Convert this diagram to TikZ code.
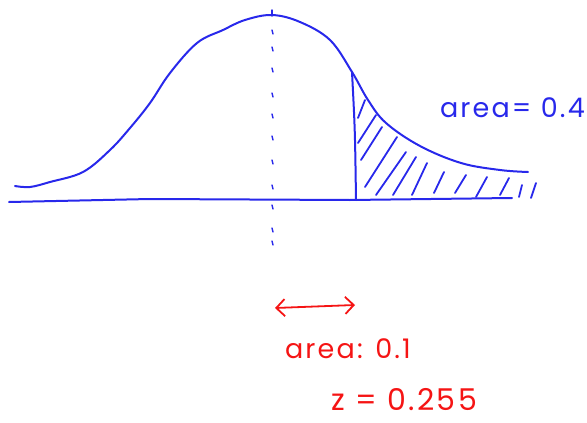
\documentclass[tikz,border=0pt]{standalone}
\usepackage{fontspec}
\newfontfamily\handfont[LetterSpace=8]{Poppins}
\usetikzlibrary{arrows.meta}
\definecolor{penblue}{RGB}{40,40,235}
\definecolor{penred}{RGB}{245,20,20}

\begin{document}
\begin{tikzpicture}[x=1pt, y=-1pt,
  pen/.style={penblue, line width=2pt, line cap=round, line join=round},
  hatch/.style={penblue, line width=1.8pt, line cap=round},
  tick/.style={penblue, line width=1.4pt, line cap=round},
  lbl/.style={inner sep=0pt, font=\handfont\fontsize{27}{30}\selectfont},
  farr/.style={{Straight Barb[length=3mm,width=6mm]}-{Straight Barb[length=3mm,width=6mm]},
               penred, line width=1.8pt, line cap=round}
]
\useasboundingbox (0,0) rectangle (587,423);
% axis and bell curve
\draw[pen] (9,202) -- (150,199) -- (350,200) -- (512,198);
\draw[pen] plot[smooth, tension=0.6] coordinates {(15,186) (30,187) (50,182) (83,172)
  (110,150) (130,128) (150,103) (170,73) (197,43) (223,30) (245,20) (272,15) (300,22)
  (330,40) (352,72) (368,100) (386,123) (420,146) (461,163) (500,170) (528,172)};
% cut-off line
\draw[pen] (352,72) .. controls (355,130) .. (356,200);
% mean, dotted
\draw[tick] (272,10) -- (272,16);
\foreach \y in {30,47,68,93,114,136,160,185,205,228,241}
  \draw[tick] (272,\y) -- ++(1,4);
% shaded tail
\foreach \a/\b/\c/\d in {358/118/365/100, 358/143/376/115, 361/160/382/127, 365/187/397/137,
  376/195/406/152, 393/195/416/157, 412/195/427/163, 434/193/444/172, 455/193/466/175,
  476/197/487/177, 500/195/509/178, 519/197/522/185, 531/198/536/183}
  \draw[hatch] (\a,\b) -- (\c,\d);
\node[lbl, penblue, anchor=east] (tailarea) at (585,108) {area= 0.4};
% red notes
\coordinate (ar-l) at (275,308);
\coordinate (ar-r) at (355,305);
\draw[farr] (ar-l) -- (ar-r);
\node[lbl, penred] (midarea) at (348,349) {area: 0.1};
\node[lbl, penred, font=\handfont\fontsize{30}{33}\selectfont] (zval) at (404,400) {z = 0.255};
\end{tikzpicture}
\end{document}
